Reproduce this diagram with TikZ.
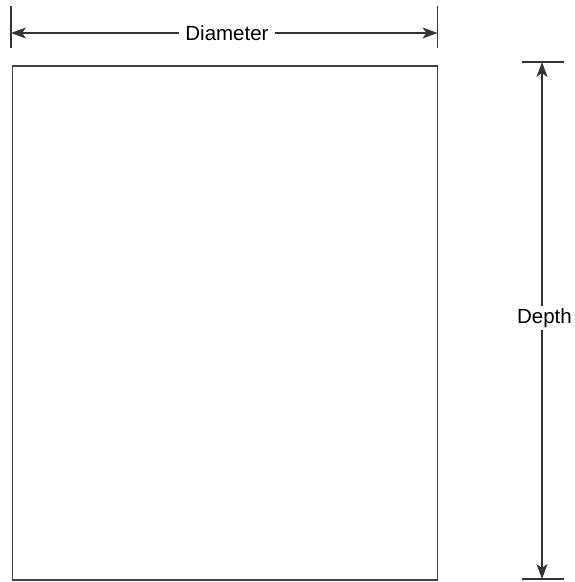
\documentclass[tikz,border=0pt]{standalone}
\usepackage{fontspec}
\setmainfont{Liberation Sans}
\usepackage{tikz}
\usetikzlibrary{arrows.meta}

\tikzset{
  dimline/.style={line width=1.2pt, draw=black!80, -{Stealth[length=15pt, width=11pt, inset=4pt]}},
  tickline/.style={line width=1.2pt, draw=black!80},
  dimlabel/.style={font=\fontsize{20.5}{24}\selectfont, inner xsep=6pt, inner ysep=2pt, fill=white}
}

\begin{document}
\begin{tikzpicture}[x=1pt, y=-1pt]
\useasboundingbox (0,0) rectangle (574,582);
% the can body
\draw[line width=1.2pt, draw=black!75] (12.5,66) rectangle (437.5,580);
% diameter
\draw[tickline] (11,6) -- (11,48);
\draw[tickline] (437.5,6) -- (437.5,48);
\coordinate (diamL) at (11,33);
\coordinate (diamR) at (437.5,33);
\node[dimlabel] (diam) at (227,33) {Diameter};
\draw[dimline] (diam) -- (diamL);
\draw[dimline] (diam) -- (diamR);
% depth
\draw[tickline] (522,62) -- (564,62);
\draw[tickline] (522,579) -- (564,579);
\coordinate (depthT) at (542,62);
\coordinate (depthB) at (542,579);
\node[dimlabel] (depth) at (544.5,318) {Depth};
\draw[dimline] (depth.north -| depthT) -- (depthT);
\draw[dimline] (depth.south -| depthB) -- (depthB);
\end{tikzpicture}
\end{document}
